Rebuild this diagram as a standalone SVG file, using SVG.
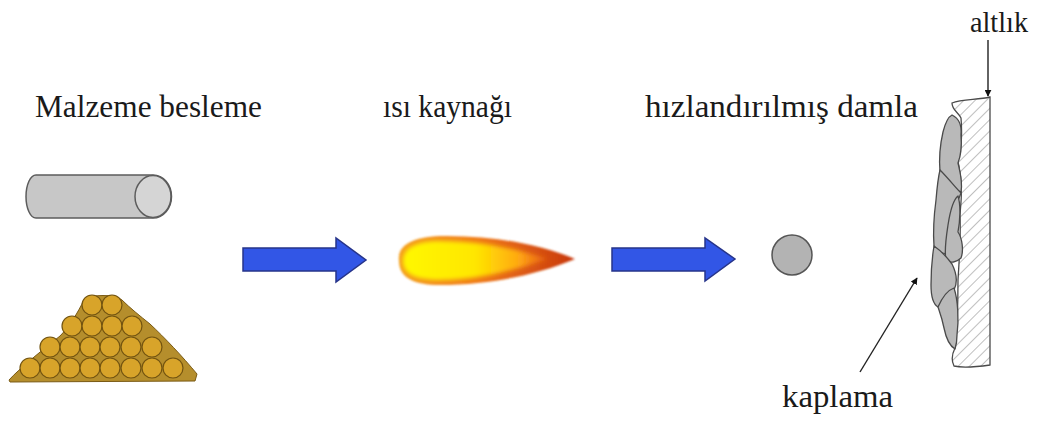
<svg xmlns="http://www.w3.org/2000/svg" width="1037" height="421" viewBox="0 0 1037 421">
  <defs>
    <style>
      text { font-family: 'Liberation Serif', 'Tinos', 'Times New Roman', 'Times', 'Noto Serif', 'DejaVu Serif', 'FreeSerif', 'Nimbus Roman', 'Nimbus Roman No9 L', 'Georgia', serif; fill: #1a1a1a; }
      .bigarrow { fill: #3256e6; stroke: #26348a; stroke-width: 1.5; stroke-linejoin: miter; }
      .grain { fill: #d8a42a; stroke: #735410; stroke-width: 1.2; }
      .coat { fill: #b9b9b9; stroke: #4a4a4a; stroke-width: 1.3; stroke-linejoin: round; }
      .pointer { stroke: #222; stroke-width: 1.4; fill: none; }
    </style>
    <pattern id="hatch" patternUnits="userSpaceOnUse" width="8" height="8" patternTransform="rotate(45)">
      <line x1="0" y1="0" x2="0" y2="8" stroke="#8a8a8a" stroke-width="1.1"/>
    </pattern>
    <linearGradient id="flameCore" x1="0" y1="0" x2="1" y2="0">
      <stop offset="0" stop-color="#fff800"/>
      <stop offset="0.5" stop-color="#ffe600"/>
      <stop offset="0.8" stop-color="#ffa812"/>
      <stop offset="1" stop-color="#f47018" stop-opacity="0.5"/>
    </linearGradient>
    <linearGradient id="flameOuter" x1="0" y1="0" x2="1" y2="0">
      <stop offset="0" stop-color="#f4a020"/>
      <stop offset="0.45" stop-color="#f07a18"/>
      <stop offset="1" stop-color="#c8380e"/>
    </linearGradient>
    <filter id="soft" x="-10%" y="-30%" width="120%" height="160%">
      <feGaussianBlur stdDeviation="1.2"/>
    </filter>
    <filter id="glow" x="-10%" y="-30%" width="120%" height="160%">
      <feGaussianBlur stdDeviation="2.2"/>
    </filter>
    <marker id="tip" viewBox="0 0 10 10" refX="9" refY="5" markerWidth="7" markerHeight="7" orient="auto" markerUnits="userSpaceOnUse">
      <path d="M0,0 L10,5 L0,10 Z" fill="#111"/>
    </marker>
  </defs>

  <rect width="1037" height="421" fill="#ffffff"/>

  <!-- feed material: wire rod and powder -->
  <g id="feed">
    <text x="35" y="117" font-size="32" textLength="227" lengthAdjust="spacingAndGlyphs">Malzeme besleme</text>
    <g id="rod">
      <path d="M36,175 L153,175 A18.5,21.5 0 0 1 153,218 L36,218 A10,21.5 0 0 1 36,175 Z" fill="#c7c7c7" stroke="#5c5c5c" stroke-width="1.5"/>
      <ellipse cx="153" cy="196.5" rx="18" ry="21" fill="#d5d5d5" stroke="#5c5c5c" stroke-width="1.5"/>
    </g>
    <g id="powder">
      <path d="M9,380 C20,368 40,352 60,336 C70,326 78,312 84,300 C90,294 116,294 122,300 C130,308 140,316 150,324 C165,338 182,356 197,374 L195,381 L10,382 Z" fill="#b58e2c" stroke="#7a5a14" stroke-width="1"/>
      <circle class="grain" cx="92" cy="305" r="10"/>
      <circle class="grain" cx="112" cy="305" r="10"/>
      <circle class="grain" cx="72" cy="326" r="10"/>
      <circle class="grain" cx="92" cy="326" r="10"/>
      <circle class="grain" cx="112" cy="326" r="10"/>
      <circle class="grain" cx="132" cy="326" r="10"/>
      <circle class="grain" cx="50" cy="347" r="10"/>
      <circle class="grain" cx="70" cy="347" r="10"/>
      <circle class="grain" cx="90" cy="347" r="10"/>
      <circle class="grain" cx="110" cy="347" r="10"/>
      <circle class="grain" cx="131" cy="347" r="10"/>
      <circle class="grain" cx="152" cy="347" r="10"/>
      <circle class="grain" cx="30" cy="368" r="10"/>
      <circle class="grain" cx="50" cy="368" r="10"/>
      <circle class="grain" cx="70" cy="368" r="10"/>
      <circle class="grain" cx="90" cy="368" r="10"/>
      <circle class="grain" cx="110" cy="368" r="10"/>
      <circle class="grain" cx="131" cy="368" r="10"/>
      <circle class="grain" cx="152" cy="368" r="10"/>
      <circle class="grain" cx="173" cy="368" r="10"/>
    </g>
  </g>

  <!-- heat source: flame -->
  <g id="heat">
    <text x="383" y="117" font-size="32" textLength="129" lengthAdjust="spacingAndGlyphs">ısı kaynağı</text>
    <path d="M399,261 C397,245 413,237 440,236 C490,235 540,244 575,259 C540,274 490,285 440,285 C413,285 399,277 399,261 Z" fill="url(#flameOuter)" filter="url(#soft)"/>
    <path d="M403,261 C403,248 416,241 440,241 C482,241 518,249 548,259 C518,269 482,280 440,280 C416,280 403,274 403,261 Z" fill="url(#flameCore)" filter="url(#glow)"/>
  </g>

  <!-- accelerated droplet -->
  <g id="droplet">
    <text x="645" y="117" font-size="32" textLength="273" lengthAdjust="spacingAndGlyphs">hızlandırılmış damla</text>
    <circle cx="792" cy="255" r="20" fill="#b3b3b3" stroke="#555" stroke-width="1.5"/>
  </g>

  <!-- substrate with hatched section -->
  <g id="substrate">
    <text x="970" y="32" font-size="30" textLength="58" lengthAdjust="spacingAndGlyphs">altlık</text>
    <path d="M952,103 C962,99 978,100 990,97 L990,365 C976,367 962,368 954,366 C951,360 952,354 955,348 C957,330 958,300 958,280 C959,262 961,240 960,215 C961,200 962,195 961,190 C962,175 958,165 958,160 C962,150 962,130 961,118 C958,112 952,110 952,103 Z" fill="url(#hatch)" stroke="#4a4a4a" stroke-width="1.3"/>
  </g>

  <!-- sprayed coating: flattened splats -->
  <g id="coating">
    <text x="782" y="407" font-size="32" textLength="111" lengthAdjust="spacingAndGlyphs">kaplama</text>
    <path class="coat" d="M952,115 C958,118 962,125 961,135 C962,148 960,158 958,163 C960,172 963,182 961,192 C955,190 946,180 940,172 C939,160 940,145 943,132 C945,124 948,117 952,115 Z"/>
    <path class="coat" d="M940,170 C948,178 956,188 961,193 C956,205 952,215 950,228 C948,238 948,248 945,254 C940,252 936,250 934,246 C933,232 934,215 936,200 C937,188 938,178 940,170 Z"/>
    <path class="coat" d="M958,196 C961,205 960,222 958,232 C962,238 964,250 961,258 C957,262 950,264 946,260 C944,250 946,238 948,225 C950,212 953,200 958,196 Z"/>
    <path class="coat" d="M934,246 C940,250 946,256 952,264 C956,272 958,282 954,290 C948,296 942,302 938,307 C933,304 931,296 931,285 C931,272 932,258 934,246 Z"/>
    <path class="coat" d="M954,288 C958,300 959,320 957,335 C957,342 956,346 955,349 C950,346 946,338 944,328 C942,318 939,310 938,307 C942,298 948,290 954,288 Z"/>
  </g>

  <!-- connectors: process arrows and label pointers -->
  <g id="connectors">
    <polygon class="bigarrow" points="243,248 336,248 336,238 366,260 336,282 336,271 243,271"/>
    <polygon class="bigarrow" points="612,248 705,248 705,238 735,259 705,281 705,271 612,271"/>
    <line class="pointer" x1="988" y1="40" x2="988" y2="96" marker-end="url(#tip)"/>
    <line class="pointer" x1="860" y1="372" x2="917" y2="278" marker-end="url(#tip)"/>
  </g>
</svg>
